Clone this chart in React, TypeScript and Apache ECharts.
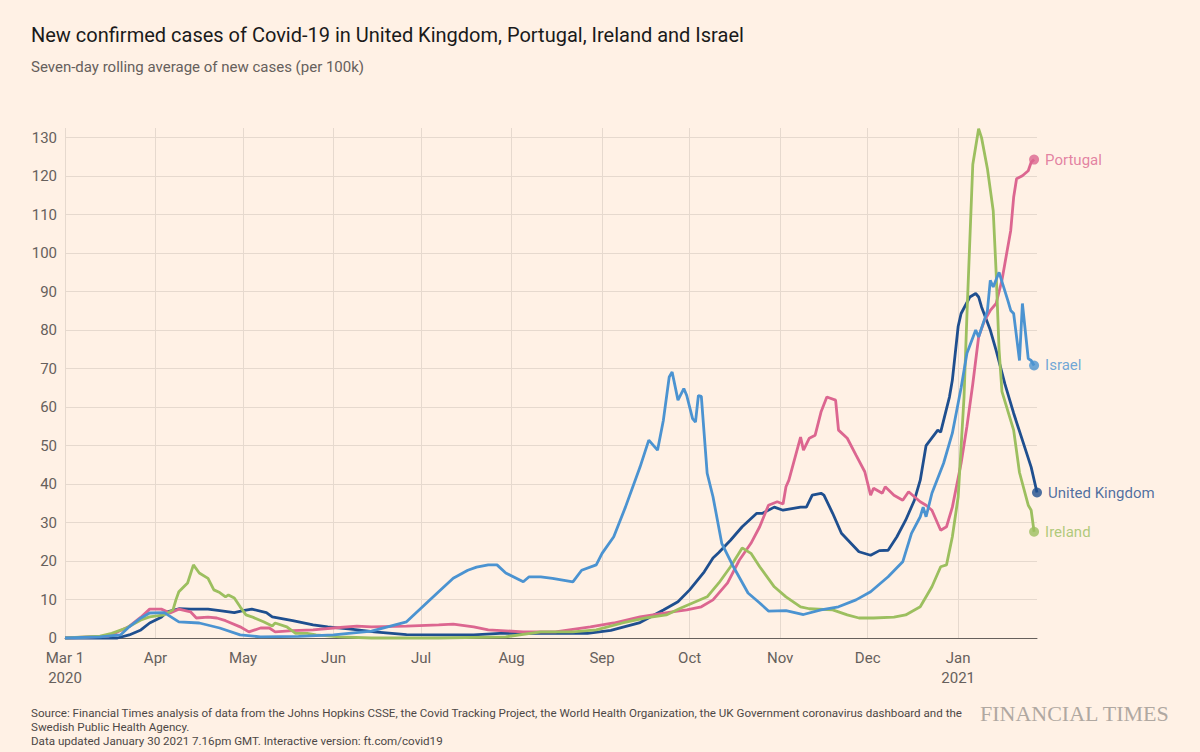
import React, { useEffect, useRef } from "react";
import * as echarts from "echarts";

// ---------- categories (one per day, 1 Mar 2020 .. 28 Jan 2021) ----------
const firstDay = "2020-03-01";
const dayCount = 334;
const categories: string[] = Array.from({ length: dayCount }, (_, i) => {
  const d = new Date(Date.UTC(2020, 2, 1 + i));
  return d.toISOString().slice(0, 10);
});
const monthNames = ["Jan", "Feb", "Mar", "Apr", "May", "Jun", "Jul", "Aug", "Sep", "Oct", "Nov", "Dec"];

// ---------- y ticks ----------
const yMin = 0;
const yMax = 132.5;
const yStep = 10;

// ---------- series values: [day index since 1 Mar 2020, cases per 100k] ----------
const ukValues: [number, number][] = [
  [0, 0], [18, 0], [22, 0.8], [26, 2.1], [29, 3.9], [33, 5.4], [35, 6.8], [39, 7.6], [43, 7.5], [49, 7.5],
  [53, 7.1], [58, 6.6], [61, 7.1], [64, 7.5], [69, 6.6], [71, 5.5], [78, 4.5], [85, 3.4], [90, 2.9], [98, 2.3],
  [106, 1.6], [117, 0.9], [128, 0.8], [140, 0.8], [149, 1.2], [163, 1.2], [179, 1.2], [187, 2.0], [197, 4.0],
  [205, 7.3], [210, 9.4], [214, 12.5], [219, 17.2], [222, 20.8], [224, 22.2], [228, 25.4], [232, 28.9],
  [237, 32.4], [239, 32.4], [243, 34], [246, 33.2], [252, 34], [254, 34], [256, 37.1], [259, 37.6], [260, 37.1],
  [263, 32.4], [266, 27.2], [272, 22.4], [276, 21.5], [279, 22.7], [282, 22.8], [285, 26.3], [288, 30.6],
  [291, 35.8], [293, 41], [295, 50], [299, 54], [300, 53.5], [303, 62.6], [304, 67], [306, 81], [307, 84.3],
  [310, 88.6], [312, 89.5], [313, 88.6], [314, 86], [317, 80], [319, 74.7], [322, 66], [325, 58.4],
  [328, 51.4], [331, 44.4], [333, 37.8],
];

const portugalValues: [number, number][] = [
  [0, 0], [15, 0.5], [22, 3], [26, 5.4], [29, 7.5], [33, 7.5], [36, 6.5], [39, 7.5], [43, 6.8], [45, 5.2],
  [49, 5.4], [52, 5.2], [55, 4.5], [60, 2.9], [63, 1.6], [67, 2.6], [70, 2.6], [72, 1.6], [78, 1.9], [85, 2.1],
  [92, 2.6], [100, 3.1], [105, 2.9], [117, 3.1], [128, 3.4], [133, 3.6], [140, 2.9], [145, 2.1], [157, 1.6],
  [168, 1.6], [180, 2.9], [188, 3.9], [197, 5.5], [208, 6.8], [213, 7.3], [218, 8.1], [222, 9.9], [227, 14.3],
  [231, 20.2], [235, 24.6], [238, 28.9], [241, 34.5], [244, 35.4], [246, 34.8], [247, 39.3], [248, 41],
  [252, 52.2], [253, 48.8], [255, 51.9], [257, 52.7], [259, 58.7], [261, 62.6], [264, 61.8], [265, 54],
  [268, 51.9], [271, 47.5], [274, 43.2], [276, 37.1], [277, 38.9], [280, 37.6], [281, 39.3], [284, 37.1],
  [287, 35.8], [289, 38], [293, 35.4], [295, 34.5], [297, 33.2], [300, 28], [302, 28.9], [304, 34],
  [307, 45.4], [309, 55], [311, 66], [313, 78.2], [315, 82.5], [317, 85.1], [319, 86.9], [321, 93],
  [322, 97.3], [324, 105.9], [325, 114.5], [326, 119.3], [328, 120.1], [330, 121.4], [331, 123.6], [332, 124.3],
];

const irelandValues: [number, number][] = [
  [0, 0], [12, 0.5], [16, 1.2], [21, 2.6], [26, 4.7], [29, 5.5], [34, 6], [37, 7.3], [38, 9.9], [39, 12],
  [42, 14.3], [44, 19], [46, 16.9], [49, 15.5], [51, 12.5], [53, 11.8], [55, 10.7], [56, 11.2], [58, 10.4],
  [60, 8.1], [62, 6], [64, 5.5], [68, 4.2], [71, 3.1], [72, 3.9], [76, 2.9], [79, 1.2], [83, 1.2], [86, 0.8],
  [94, 0.3], [105, 0], [128, 0], [151, 0.3], [163, 1.6], [174, 1.6], [182, 2.1], [191, 3.9], [199, 5.2],
  [206, 6], [211, 7.8], [215, 9.1], [220, 10.7], [224, 14.3], [228, 18.5], [232, 23.4], [235, 22], [238, 18.5],
  [243, 13.3], [247, 10.7], [252, 8.1], [255, 7.6], [263, 7.3], [268, 6], [272, 5.2], [277, 5.2], [284, 5.4],
  [288, 6], [293, 8.1], [297, 13.3], [300, 18.5], [302, 19], [304, 26.3], [306, 36.7], [308, 62.6], [309, 84],
  [311, 123], [313, 132.3], [314, 130], [316, 122], [318, 111], [319, 95], [320, 75], [321, 64], [325, 54],
  [327, 43], [330, 34.5], [331, 33.2], [332, 27.6],
];

const israelValues: [number, number][] = [
  [0, 0], [12, 0.3], [19, 0.8], [22, 2.9], [26, 5.2], [29, 6.5], [34, 6.6], [39, 4.2], [46, 3.9], [53, 2.6],
  [60, 0.8], [67, 0.3], [80, 0.4], [92, 0.8], [105, 1.8], [117, 4.2], [128, 12], [133, 15.5], [138, 17.6],
  [141, 18.4], [145, 19], [148, 19], [151, 16.9], [157, 14.6], [159, 15.9], [163, 15.9], [167, 15.5],
  [174, 14.6], [177, 17.6], [182, 19], [184, 22], [188, 26.3], [192, 34], [197, 44.4], [200, 51.4],
  [203, 48.8], [205, 56.6], [207, 67.8], [208, 69.1], [210, 61.8], [212, 64.8], [213, 63], [215, 57],
  [216, 56.1], [217, 63], [218, 62.8], [220, 42.8], [222, 36.7], [225, 24.6], [229, 18.5], [234, 11.7],
  [238, 9.1], [241, 7], [247, 7.1], [253, 6.1], [259, 7.3], [265, 8.1], [271, 9.9], [276, 12], [282, 15.9],
  [287, 19.8], [290, 27.2], [293, 31.5], [294, 34], [295, 31.5], [297, 37.6], [301, 45.4], [304, 53.2],
  [307, 65], [309, 74], [312, 80], [313, 78.2], [316, 85], [317, 92.9], [318, 91.2], [320, 95], [323, 87.7],
  [324, 85.1], [325, 84.3], [327, 72.1], [328, 86.9], [330, 72.6], [331, 72.1], [332, 70.8],
];

const seriesNames = ["United Kingdom", "Portugal", "Ireland", "Israel"];
const seriesColors = ["#1f4f8f", "#dc6690", "#9cbf5f", "#4b93d1"];
const seriesData = [ukValues, portugalValues, irelandValues, israelValues];

const titleText = "New confirmed cases of Covid-19 in United Kingdom, Portugal, Ireland and Israel";
const subtitleText = "Seven-day rolling average of new cases (per 100k)";
const footerText =
  "Source: Financial Times analysis of data from the Johns Hopkins CSSE, the Covid Tracking Project, the World Health Organization, the UK Government coronavirus dashboard and the\nSwedish Public Health Agency.\nData updated January 30 2021 7.16pm GMT. Interactive version: ft.com/covid19";
const brandText = "FINANCIAL TIMES";

const FONT = "Roboto, 'Noto Sans', sans-serif";

function isMonthStart(index: number): boolean {
  const c = categories[index];
  return !!c && c.slice(8, 10) === "01";
}

function monthLabel(value: string): string {
  const y = value.slice(0, 4);
  const m = parseInt(value.slice(5, 7), 10) - 1;
  if (value === firstDay) return `${monthNames[m]} 1\n${y}`;
  if (m === 0) return `${monthNames[m]}\n${y}`;
  return monthNames[m];
}

export default function App() {
  const ref = useRef<HTMLDivElement>(null);

  useEffect(() => {
    document.body.style.margin = "0";
    document.body.style.background = "#fff1e5";
    if (!ref.current) return;
    const chart = echarts.init(ref.current, undefined, { renderer: "svg" });

    const lineSeries = seriesNames.map((name, i) => ({
      name,
      type: "line",
      data: seriesData[i],
      showSymbol: false,
      symbol: "none",
      lineStyle: { color: seriesColors[i], width: 2.8 },
      itemStyle: { color: seriesColors[i] },
      z: 2 + i,
      clip: false,
    }));

    const endDots = {
      type: "scatter",
      symbol: "circle",
      symbolSize: 10,
      z: 10,
      silent: true,
      data: seriesNames.map((name, i) => {
        const d = seriesData[i];
        const last = d[d.length - 1];
        return {
          value: last,
          name,
          itemStyle: { color: seriesColors[i] },
          label: {
            show: true,
            position: "right",
            distance: 6,
            formatter: name,
            color: seriesColors[i],
            fontSize: 15,
            fontFamily: FONT,
          },
        };
      }),
    };

    chart.setOption({
      animation: false,
      backgroundColor: "#fff1e5",
      textStyle: { fontFamily: FONT },
      title: [
        {
          text: titleText,
          left: 31,
          top: 25,
          padding: 0,
          textStyle: { fontSize: 20, fontWeight: "normal", color: "#1a1a1a", fontFamily: FONT },
        },
        {
          text: subtitleText,
          left: 31,
          top: 59,
          padding: 0,
          textStyle: { fontSize: 15, fontWeight: "normal", color: "#66605c", fontFamily: FONT },
        },
        {
          text: footerText,
          left: 31,
          top: 706,
          padding: 0,
          textStyle: { fontSize: 11.6, fontWeight: "normal", color: "#4d4845", lineHeight: 14, fontFamily: FONT },
        },
        {
          text: brandText,
          right: 30,
          top: 702,
          padding: 0,
          textStyle: { fontSize: 22, fontWeight: "normal", color: "#b0a8a1", fontFamily: "'Liberation Serif', 'DejaVu Serif', serif" },
        },
      ],
      grid: { left: 65, right: 163, top: 128, bottom: 114, containLabel: false },
      xAxis: {
        type: "category",
        data: categories,
        boundaryGap: false,
        axisLine: { show: true, lineStyle: { color: "#66605c", width: 1 } },
        axisTick: { show: false },
        axisLabel: {
          interval: (index: number) => isMonthStart(index),
          formatter: (value: string) => monthLabel(value),
          color: "#66605c",
          fontSize: 15,
          lineHeight: 20,
          margin: 10,
          fontFamily: FONT,
        },
        splitLine: {
          show: true,
          interval: (index: number) => isMonthStart(index),
          lineStyle: { color: "#e6d9ce", width: 1 },
        },
      },
      yAxis: {
        type: "value",
        min: yMin,
        max: yMax,
        interval: yStep,
        axisLine: { show: false },
        axisTick: { show: false },
        axisLabel: {
          color: "#66605c",
          fontSize: 15,
          margin: 8,
          showMaxLabel: false,
          fontFamily: FONT,
        },
        splitLine: { show: true, showMaxLine: false, lineStyle: { color: "#e6d9ce", width: 1 } },
      },
      series: [...lineSeries, endDots],
    });

    return () => chart.dispose();
  }, []);

  return <div ref={ref} style={{ width: 1200, height: 752 }} />;
}
